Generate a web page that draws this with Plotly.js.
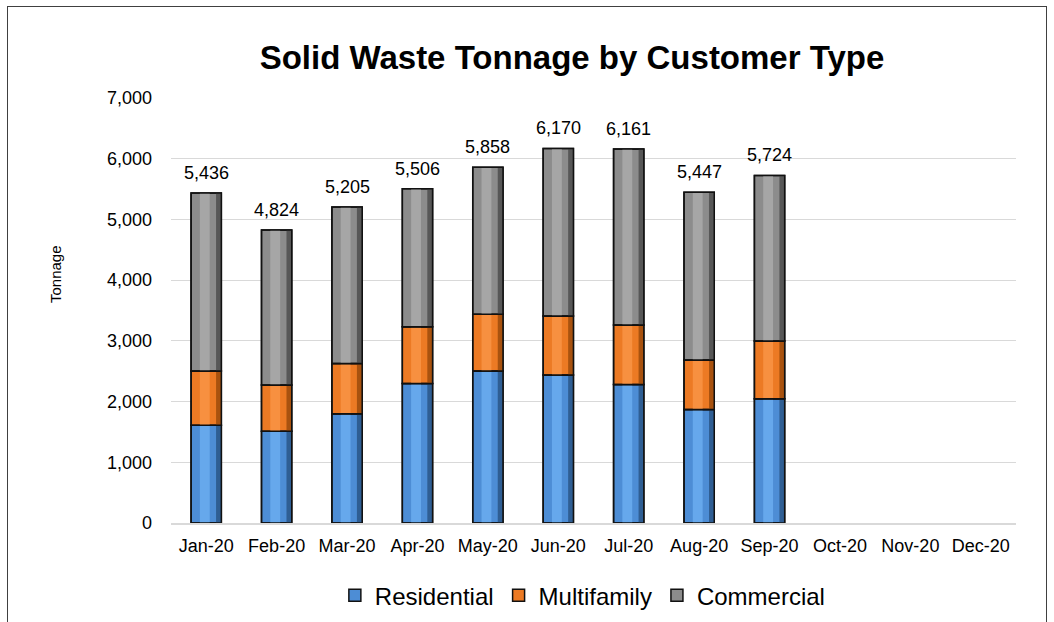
<!DOCTYPE html>
<html>
<head>
<meta charset="utf-8">
<script src="https://cdn.plot.ly/plotly-3.0.1.min.js"></script>
<style>
  html, body { margin: 0; padding: 0; background: #fff; }
  #wrap { position: relative; width: 1054px; height: 622px; overflow: hidden; }
  #chart { width: 1054px; height: 622px; }
  #frame { position: absolute; left: 7px; top: 6px; width: 1040px; height: 640px;
           border: 1px solid #404040; pointer-events: none; box-sizing: border-box; }
</style>
</head>
<body>
<div id="wrap"><div id="chart"></div><div id="frame"></div></div>
<script>
const months = ["Jan-20","Feb-20","Mar-20","Apr-20","May-20","Jun-20","Jul-20","Aug-20","Sep-20","Oct-20","Nov-20","Dec-20"];
const residential = [1611, 1512, 1799, 2299, 2502, 2436, 2282, 1870, 2046, null, null, null];
const multifamily = [891, 759, 830, 935, 935, 973, 979, 813, 951, null, null, null];
const commercial  = [2934, 2553, 2576, 2272, 2421, 2761, 2900, 2764, 2727, null, null, null];
const seriesNames = ["Residential", "Multifamily", "Commercial"];
const yTicks = [0, 1000, 2000, 3000, 4000, 5000, 6000, 7000];

const font = "Liberation Sans, Arial, sans-serif";
const midFill   = ["#4D8DD5", "#EC7A24", "#8C8C8C"];
const lightFill = ["#66A8EC", "#F79040", "#A6A6A6"];
const darkFill  = ["#2F5E93", "#A8520F", "#575757"];
const outline = "#111111";

const series = [residential, multifamily, commercial];
const bases = series.map((s, k) => months.map((m, i) => {
  let b = 0;
  for (let j = 0; j < k; j++) b += (series[j][i] || 0);
  return b;
}));
const totals = months.map((m, i) =>
  residential[i] == null ? null : residential[i] + multifamily[i] + commercial[i]);

const BW = 0.43, OFF = -BW / 2;
const traces = [];
series.forEach((vals, k) => {
  traces.push({
    type: "bar", name: seriesNames[k], x: months, y: vals, base: bases[k],
    width: BW, offset: OFF,
    marker: { color: midFill[k], line: { color: outline, width: 1.5 } },
    hoverinfo: "skip", showlegend: true, legendgroup: seriesNames[k]
  });
  traces.push({
    type: "bar", x: months, y: vals, base: bases[k],
    width: 0.075, offset: OFF + BW - 0.075,
    marker: { color: darkFill[k], line: { width: 0 } },
    hoverinfo: "skip", showlegend: false, legendgroup: seriesNames[k]
  });
  traces.push({
    type: "bar", x: months, y: vals, base: bases[k],
    width: 0.14, offset: -0.09,
    marker: { color: lightFill[k], line: { width: 0 } },
    hoverinfo: "skip", showlegend: false, legendgroup: seriesNames[k]
  });
  traces.push({
    type: "bar", x: months, y: vals, base: bases[k],
    width: BW, offset: OFF,
    marker: { color: "rgba(0,0,0,0)", line: { color: outline, width: 1.5 } },
    hoverinfo: "skip", showlegend: false, legendgroup: seriesNames[k]
  });
});

const annotations = months.map((m, i) => totals[i] == null ? null : ({
  x: m, y: totals[i], xref: "x", yref: "y",
  text: totals[i].toLocaleString("en-US"),
  showarrow: false, yanchor: "bottom", yshift: 8,
  font: { family: font, size: 18, color: "#000" }
})).filter(a => a);
annotations.push({
  text: "Tonnage", textangle: -90, showarrow: false,
  xref: "paper", yref: "paper", x: (55 - 171) / 845, y: (523 - 274) / 425,
  xanchor: "center", yanchor: "middle",
  font: { family: font, size: 15, color: "#000" }
});

const layout = {
  width: 1054, height: 622,
  margin: { l: 171, r: 38, t: 98, b: 99 },
  paper_bgcolor: "#fff", plot_bgcolor: "#fff",
  barmode: "overlay",
  showlegend: true,
  title: {
    text: "<b>Solid Waste Tonnage by Customer Type</b>",
    font: { family: font, size: 33, color: "#000" },
    x: 572 / 1054, xanchor: "center", xref: "container",
    y: 1 - 57 / 622, yanchor: "middle", yref: "container"
  },
  xaxis: {
    tickfont: { family: font, size: 18, color: "#000" },
    showgrid: false, showline: true, linecolor: "#d9d9d9", linewidth: 1.5,
    ticks: "", ticklabelstandoff: 6, fixedrange: true
  },
  yaxis: {
    range: [0, 7000],
    tickvals: yTicks,
    ticktext: yTicks.map(v => v.toLocaleString("en-US")),
    tickfont: { family: font, size: 18, color: "#000" },
    gridcolor: "#d9d9d9", gridwidth: 1.2,
    zeroline: false, showline: false, ticks: "", ticklabelstandoff: 18,
    fixedrange: true
  },
  legend: {
    orientation: "h", x: 0.553, xanchor: "center", xref: "container",
    y: 0.006, yanchor: "bottom", yref: "container",
    font: { family: font, size: 24, color: "#000" },
    traceorder: "normal"
  },
  annotations: annotations
};

Plotly.newPlot("chart", traces, layout, { staticPlot: true, displayModeBar: false });
</script>
</body>
</html>
